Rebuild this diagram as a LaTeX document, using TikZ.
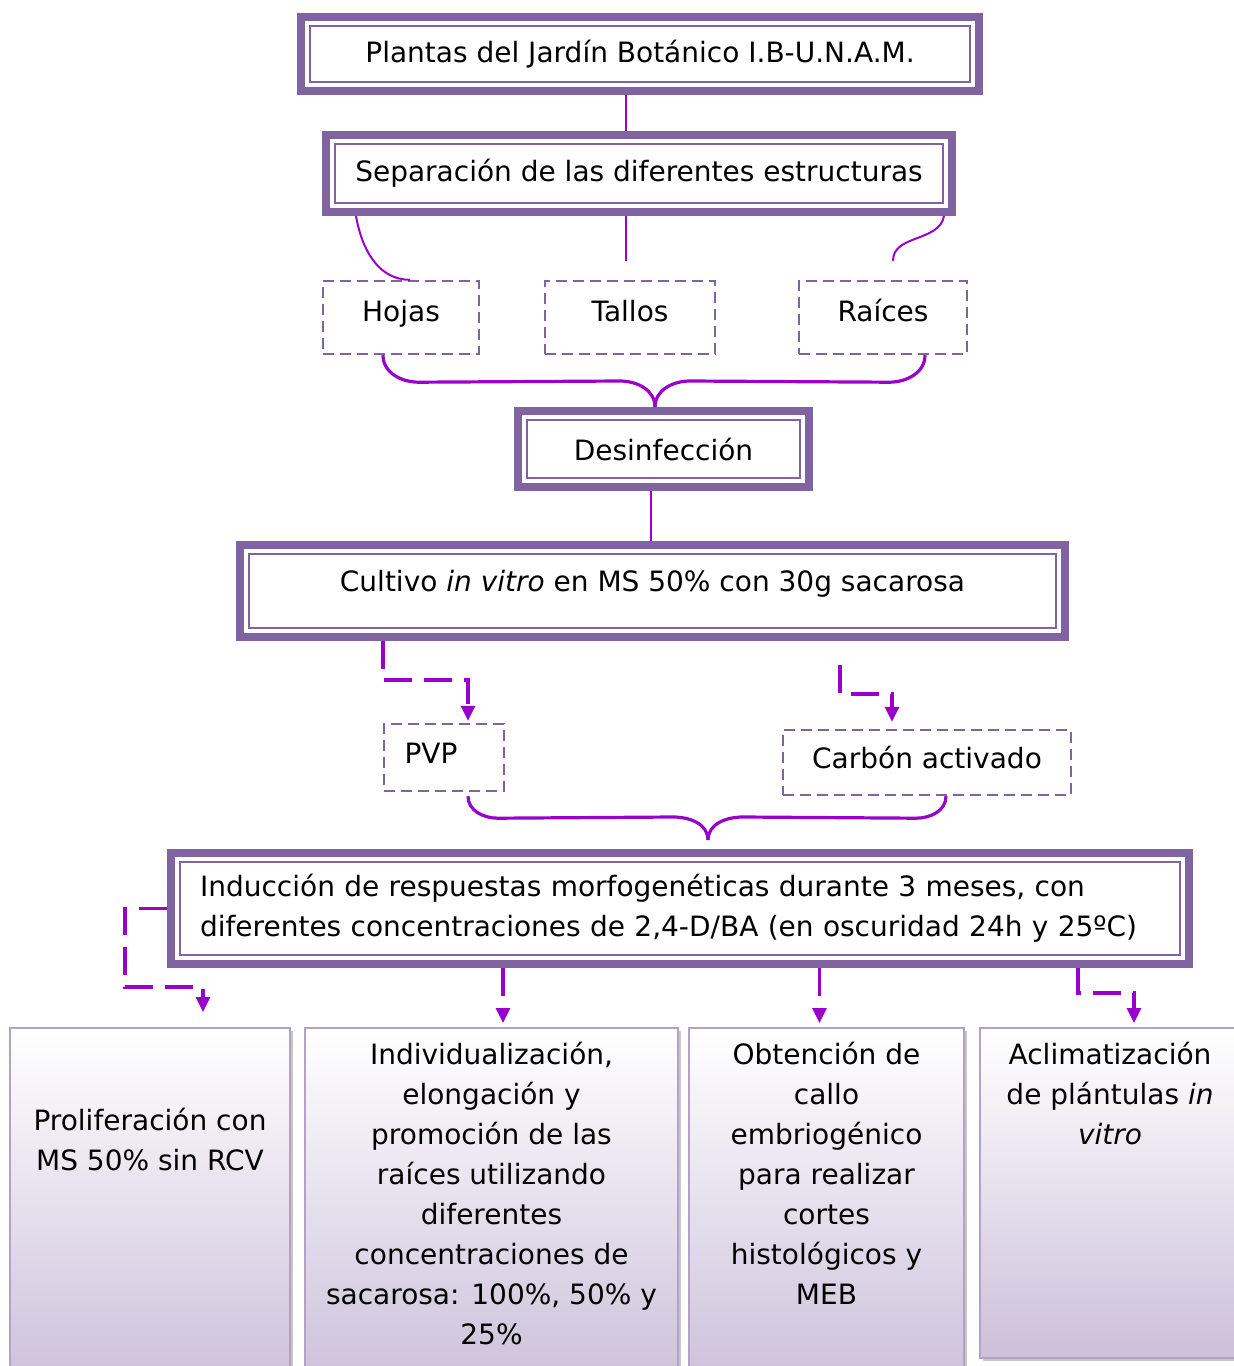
\documentclass[tikz,border=0pt]{standalone}
\usepackage{fontspec}
\setmainfont{DejaVu Sans}
\usepackage{tikz}
\usetikzlibrary{arrows.meta}
\usetikzlibrary{shadows}
\usetikzlibrary{positioning}
\definecolor{violeta}{RGB}{128,100,162}
\definecolor{lila}{RGB}{153,0,204}
\definecolor{lavanda}{RGB}{204,192,218}
\definecolor{bordelav}{RGB}{179,162,199}

\begin{document}
\begin{tikzpicture}[x=0.5pt,y=-0.5pt,
  caja/.style={draw=violeta, line width=4pt, fill=white, font=\fontsize{14pt}{20pt}\selectfont,
    path picture={\draw [violeta, line width=1pt] ([shift={(4.3pt,-4.3pt)}]path picture bounding box.north west) rectangle ([shift={(-4.3pt,4.3pt)}]path picture bounding box.south east);}},
  punteada/.style={draw=violeta, line width=1.2pt, dash pattern=on 5.5pt off 3pt, font=\fontsize{14pt}{20pt}\selectfont, text height=10.6pt, text depth=7pt},
  resultado/.style={draw=bordelav, line width=1pt, top color=white, bottom color=lavanda, anchor=north,
    general shadow={fill=gray!45, shadow xshift=1.5pt, shadow yshift=-1.5pt}},
  texto/.style={font=\fontsize{14pt}{20pt}\selectfont, align=center, inner sep=0pt},
  linea/.style={draw=lila, line width=1pt},
  llave/.style={draw=lila, line width=1.6pt, line join=round},
  flecha/.style={draw=lila, line width=1.6pt, dash pattern=on 14pt off 6pt, -{Triangle[width=7pt,length=7.5pt]}}]
\useasboundingbox (0,0) rectangle (1234,1366);
\node [caja, minimum width=339pt, minimum height=37pt] (plantas) at (640,54) {Plantas del Jardín Botánico I.B-U.N.A.M.};
\node [caja, minimum width=313pt, minimum height=38.5pt] (separacion) at (639,173.5) {Separación de las diferentes estructuras};
\node [punteada, minimum width=78pt, minimum height=36.5pt] (hojas) at (401,317.5) {Hojas};
\node [punteada, minimum width=85pt, minimum height=36.5pt] (tallos) at (630,317.5) {Tallos};
\node [punteada, minimum width=84pt, minimum height=36.5pt] (raices) at (883,317.5) {Raíces};
\node [caja, minimum width=145.5pt, minimum height=38pt] (desinf) at (663.5,449) {Desinfección};
\node [caja, minimum width=412.5pt, minimum height=46pt, text height=10.6pt, text depth=10.6pt] (cultivo) at (652.5,591) {Cultivo \textit{in vitro} en MS 50\% con 30g sacarosa};
\node [punteada, minimum width=60pt, minimum height=33.5pt, text depth=5pt] (pvp) at (444,757.5) {PVP\hspace*{13pt}};
\node [punteada, minimum width=144pt, minimum height=32.5pt, text depth=5pt] (carbon) at (927,762.5) {Carbón activado};
\node [caja, minimum width=509pt, minimum height=55.5pt, text width=480pt, align=left] (induccion) at (680,908.5) {Inducción de respuestas morfogenéticas durante 3 meses, con\\diferentes concentraciones de 2,4-D/BA (en oscuridad 24h y 25ºC)};

\node [resultado, minimum width=140pt, minimum height=180pt] (prolif) at (150,1027) {};
\node [resultado, minimum width=186.5pt, minimum height=180pt] (individ) at (491.5,1027) {};
\node [resultado, minimum width=137.5pt, minimum height=180pt] (callo) at (826.5,1027) {};
\node [resultado, minimum width=130pt, minimum height=165pt] (aclima) at (1110,1027) {};
\node [texto, below=40.5pt of prolif.north] (tprolif) {Proliferación con\\MS 50\% sin RCV};
\node [texto, below=7.5pt of individ.north] (tindivid) {Individualización,\\elongación y\\promoción de las\\raíces utilizando\\diferentes\\concentraciones de\\sacarosa: 100\%, 50\% y\\25\%};
\node [texto, below=7.5pt of callo.north] (tcallo) {Obtención de\\callo\\embriogénico\\para realizar\\cortes\\histológicos y\\MEB};
\node [texto, below=7.5pt of aclima.north] (taclima) {Aclimatización\\de plántulas \textit{in}\\\textit{vitro}};

\draw [linea] ([xshift=-7pt]plantas.south) -- ([xshift=-7pt]plantas.south |- separacion.north);
\draw [linea] ([xshift=17pt]separacion.south west) to[out=-80,in=180] ([xshift=4.5pt]hojas.north);
\draw [linea] ([xshift=-6.5pt]separacion.south) -- ([xshift=-2pt,yshift=9.5pt]tallos.north);
\draw [linea] ([xshift=-6pt]separacion.south east) to[out=-100,in=90] ([xshift=5pt,yshift=9.5pt]raices.north);

\draw [llave] ([xshift=-9pt]hojas.south) to[out=-90,in=180] ++(18pt,-13.5pt) -- ([xshift=-21.75pt,yshift=13pt]desinf.north) to[out=0,in=90] ([xshift=-4.25pt]desinf.north);
\draw [llave] ([xshift=21pt]raices.south) to[out=-90,in=0] ++(-18pt,-13.5pt) -- ([xshift=13.25pt,yshift=13pt]desinf.north) to[out=180,in=90] ([xshift=-4.25pt]desinf.north);

\draw [linea] ([xshift=-6.25pt]desinf.south) -- ([xshift=-6.25pt]desinf.south |- cultivo.north);

\draw [flecha, shorten >=1pt] ([xshift=-134.75pt]cultivo.south) -- ++(0,-19.5pt) -| ([xshift=12pt]pvp.north);
\draw [flecha, shorten >=3.5pt] ([xshift=93.75pt,yshift=-12pt]cultivo.south) -- ++(0,-14.5pt) -| ([xshift=-17.5pt]carbon.north);

\draw [llave] ([xshift=12pt,yshift=-2pt]pvp.south) to[out=-90,in=180] ++(15pt,-11pt) -- ([xshift=-3.5pt,yshift=16pt]induccion.north) to[out=0,in=90] ([xshift=14pt,yshift=4.5pt]induccion.north);
\draw [llave] ([xshift=9.5pt]carbon.south) to[out=-90,in=0] ++(-15pt,-11pt) -- ([xshift=31.5pt,yshift=16pt]induccion.north) to[out=180,in=90] ([xshift=14pt,yshift=4.5pt]induccion.north);

\draw [flecha, shorten >=7.5pt] (induccion.west) -- ++(-21pt,0) |- ([xshift=26.5pt,yshift=20pt]prolif.north) -- ([xshift=26.5pt]prolif.north);
\draw [flecha, shorten >=2pt] ([xshift=-88.5pt]induccion.south) -- ([xshift=5.75pt]individ.north);
\draw [flecha, shorten >=2pt] ([xshift=69.75pt]induccion.south) -- ([xshift=-3.5pt]callo.north);
\draw [flecha, shorten >=2pt] ([xshift=199pt]induccion.south) -- ++(0,-12.5pt) -| ([xshift=12pt]aclima.north);
\end{tikzpicture}
\end{document}
